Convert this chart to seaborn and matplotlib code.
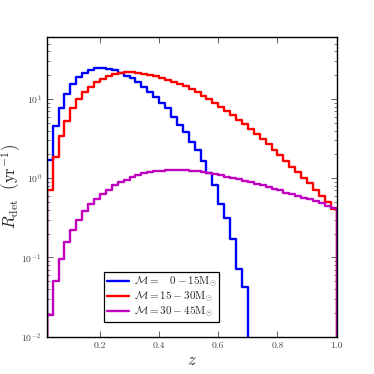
import numpy as np
import pandas as pd
import matplotlib
matplotlib.use('Agg')
import matplotlib.pyplot as plt
import seaborn as sns

# bin edges in redshift (bins of 0.02, first visible bin starts at 0.02)
z_edges = np.round(np.arange(0.0, 1.0001, 0.02), 2)

# detection rate per bin, bins 0.02-0.04 ... 0.98-1.00
rate_0_15 = [1.7, 4.5, 7.8, 11.7, 15.6, 18.8, 21.3, 23.3, 24.5, 24.4,
             24.1, 23.0, 21.3, 19.8, 18.4, 16.4, 14.1, 12.2, 10.5, 8.8,
             7.6, 6.0, 4.7, 3.8, 2.9, 2.26, 1.64, 1.15, 0.82, 0.47,
             0.31, 0.17, 0.072, 0.042, 0, 0, 0, 0, 0, 0,
             0, 0, 0, 0, 0, 0, 0, 0, 0]
rate_15_30 = [0.70, 1.83, 3.4, 5.3, 7.6, 10.0, 12.2, 14.3, 16.3, 18.0,
              19.5, 20.8, 21.6, 22.0, 22.0, 21.6, 21.0, 20.3, 19.5, 18.5,
              17.5, 16.5, 15.5, 14.6, 13.2, 12.1, 11.0, 9.9, 8.9, 8.0,
              7.1, 6.3, 5.5, 4.8, 4.15, 3.6, 3.1, 2.67, 2.3, 1.96,
              1.66, 1.40, 1.20, 1.02, 0.86, 0.72, 0.60, 0.50, 0.41]
rate_30_45 = [0.019, 0.051, 0.096, 0.156, 0.22, 0.294, 0.38, 0.47, 0.55, 0.64,
              0.72, 0.81, 0.89, 0.96, 1.03, 1.09, 1.15, 1.19, 1.23, 1.25,
              1.26, 1.27, 1.27, 1.26, 1.24, 1.22, 1.19, 1.16, 1.12, 1.09,
              1.05, 1.01, 0.97, 0.93, 0.89, 0.85, 0.81, 0.77, 0.73, 0.70,
              0.66, 0.63, 0.60, 0.57, 0.54, 0.51, 0.48, 0.45, 0.42]

labels = [r'$\mathcal{M} =\ \ \ 0-15\mathrm{M}_{\odot}$',
          r'$\mathcal{M} = 15-30\mathrm{M}_{\odot}$',
          r'$\mathcal{M} = 30-45\mathrm{M}_{\odot}$']
colors = ['#0000ff', '#ff0000', '#bf00bf']

sns.set_style('ticks')
plt.rcParams['font.family'] = 'serif'
plt.rcParams['font.serif'] = ['cmr10', 'DejaVu Serif']
plt.rcParams['mathtext.fontset'] = 'cm'
plt.rcParams['axes.formatter.use_mathtext'] = True

# long table, padded with zero at both ends so the steps drop to the axis
rows = []
for lab, vals in zip(labels, [rate_0_15, rate_15_30, rate_30_45]):
    yy = [0.0] + list(vals) + [0.0]
    for z, r in zip(z_edges, yy):
        rows.append({'z': z, 'rate': r, 'mass': lab})
df = pd.DataFrame(rows)

fig, ax = plt.subplots(figsize=(3.74, 3.74), dpi=100)
fig.subplots_adjust(left=0.125, right=0.9, bottom=0.1, top=0.9)

sns.lineplot(data=df, x='z', y='rate', hue='mass', palette=colors,
             hue_order=labels, drawstyle='steps-post', lw=1.7,
             legend=False, ax=ax, sort=False)

ax.set_yscale('log')
ax.set_xlim(0.02, 1.0)
ax.set_ylim(1e-2, 60)
ax.set_xticks([0.2, 0.4, 0.6, 0.8, 1.0])
ax.set_xticklabels(['0.2', '0.4', '0.6', '0.8', '1.0'])

ax.set_xlabel(r'$z$', fontsize=12)
ax.set_ylabel(r'$R_{\rm det}\ \ (\mathrm{yr}^{-1})$', fontsize=12)
ax.xaxis.set_label_coords(0.5, -0.055)
ax.yaxis.set_label_coords(-0.082, 0.5)

ax.tick_params(which='both', direction='in', top=True, right=True,
               labelsize=7, colors='#444444', labelcolor='#444444')
ax.tick_params(which='major', length=4, width=0.6)
ax.tick_params(which='minor', length=2, width=0.5)
for s in ax.spines.values():
    s.set_linewidth(1.0)
    s.set_color('black')

handles = ax.get_lines()[:3]
leg = ax.legend(handles, labels, loc='lower left',
                bbox_to_anchor=(0.198, 0.049), borderaxespad=0,
                fancybox=False, edgecolor='black', framealpha=1,
                handlelength=2.0, labelspacing=0.05, borderpad=0.25,
                handletextpad=0.4, fontsize=8)
leg.get_frame().set_linewidth(0.9)

plt.savefig('out.png', dpi=100)
